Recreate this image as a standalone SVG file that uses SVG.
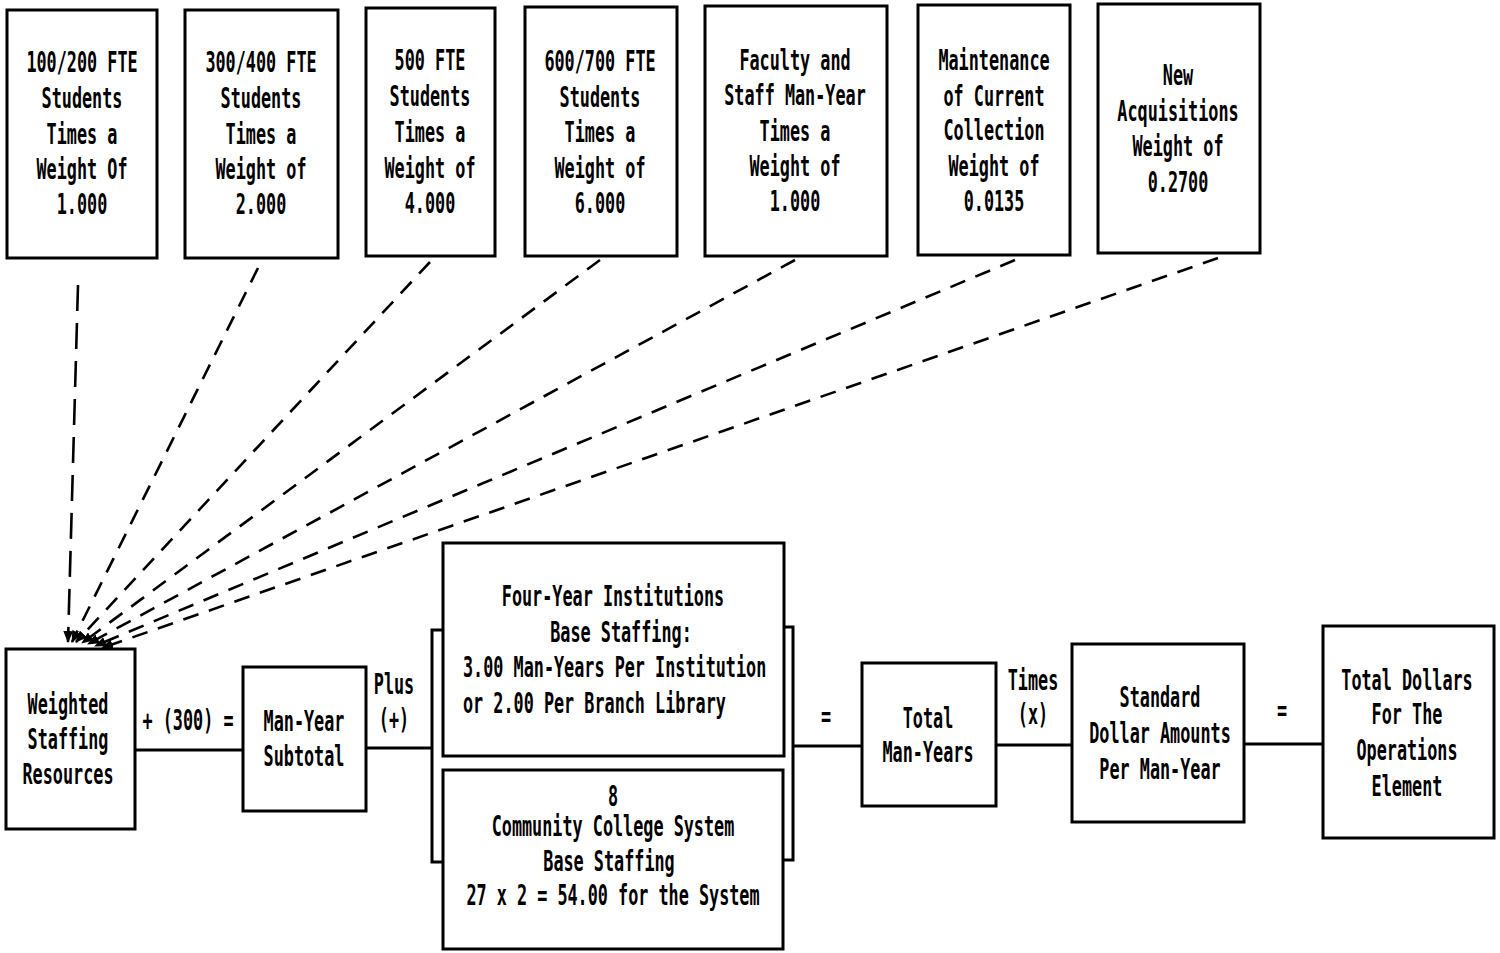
<svg xmlns="http://www.w3.org/2000/svg" width="1500" height="953" viewBox="0 0 1500 953">
<style>
.box{fill:#fff;stroke:#000;stroke-width:3}
.ln{fill:none;stroke:#000;stroke-width:3}
.ds{fill:none;stroke:#000;stroke-width:2.6;stroke-dasharray:16 11}
.dv{fill:none;stroke:#000;stroke-width:2.6;stroke-dasharray:26 12}
text{font-family:"DejaVu Sans Mono","Liberation Mono",monospace;font-size:28px;font-weight:bold;fill:#000;text-anchor:middle}
.st{text-anchor:start}
</style>
<defs>
<marker id="ah" markerUnits="userSpaceOnUse" markerWidth="12" markerHeight="10" refX="11" refY="5" orient="auto">
<path d="M0,0 L12,5 L0,10 Z" fill="#000"/>
</marker>
</defs>
<rect width="1500" height="953" fill="#fff"/>

<g id="connectors">
<path class="dv" d="M78,285 L68,642" marker-end="url(#ah)"/>
<path class="ds" d="M258,268 L72,642" marker-end="url(#ah)"/>
<path class="ds" d="M430,262 L76,642" marker-end="url(#ah)"/>
<path class="ds" d="M600,260 L82,643" marker-end="url(#ah)"/>
<path class="ds" d="M795,260 L88,644" marker-end="url(#ah)"/>
<path class="ds" d="M1015,260 L95,646" marker-end="url(#ah)"/>
<path class="ds" d="M1218,258 L102,648" marker-end="url(#ah)"/>
<path class="ln" d="M135,750 H243"/>
<path class="ln" d="M366,748 H432"/>
<path class="ln" d="M443,630 H432 V862 H443"/>
<path class="ln" d="M784,627 H793 V860 H784"/>
<path class="ln" d="M793,746 H862"/>
<path class="ln" d="M996,745 H1072"/>
<path class="ln" d="M1244,744 H1323"/>
<g transform="translate(188,0) scale(0.6,1)"><text y="730">+ (300) =</text></g>
<g transform="translate(394,0) scale(0.6,1)"><text y="694">Plus</text><text y="729">(+)</text></g>
<g transform="translate(826,0) scale(0.6,1)"><text y="726">=</text></g>
<g transform="translate(1033,0) scale(0.6,1)"><text y="690">Times</text><text y="724">(x)</text></g>
<g transform="translate(1282,0) scale(0.6,1)"><text y="720">=</text></g>
</g>

<g id="n1"><rect class="box" x="7" y="10" width="150" height="248"/>
<g transform="translate(82,0) scale(0.6,1)"><text y="72">100/200 FTE</text><text y="108">Students</text><text y="144">Times a</text><text y="179">Weight Of</text><text y="214">1.000</text></g></g>

<g id="n2"><rect class="box" x="185" y="10" width="153" height="248"/>
<g transform="translate(261,0) scale(0.6,1)"><text y="72">300/400 FTE</text><text y="108">Students</text><text y="144">Times a</text><text y="179">Weight of</text><text y="214">2.000</text></g></g>

<g id="n3"><rect class="box" x="366" y="8" width="129" height="248"/>
<g transform="translate(430,0) scale(0.6,1)"><text y="70">500 FTE</text><text y="106">Students</text><text y="142">Times a</text><text y="178">Weight of</text><text y="213">4.000</text></g></g>

<g id="n4"><rect class="box" x="525" y="7" width="152" height="249"/>
<g transform="translate(600,0) scale(0.6,1)"><text y="71">600/700 FTE</text><text y="107">Students</text><text y="142">Times a</text><text y="178">Weight of</text><text y="213">6.000</text></g></g>

<g id="n5"><rect class="box" x="705" y="6" width="182" height="250"/>
<g transform="translate(795,0) scale(0.6,1)"><text y="70">Faculty and</text><text y="105">Staff Man-Year</text><text y="141">Times a</text><text y="176">Weight of</text><text y="211">1.000</text></g></g>

<g id="n6"><rect class="box" x="918" y="5" width="152" height="250"/>
<g transform="translate(994,0) scale(0.6,1)"><text y="70">Maintenance</text><text y="106">of Current</text><text y="140">Collection</text><text y="176">Weight of</text><text y="211">0.0135</text></g></g>

<g id="n7"><rect class="box" x="1098" y="4" width="162" height="249"/>
<g transform="translate(1178,0) scale(0.6,1)"><text y="85">New</text><text y="121">Acquisitions</text><text y="156">Weight of</text><text y="192">0.2700</text></g></g>

<g id="weighted"><rect class="box" x="6" y="649" width="129" height="180"/>
<g transform="translate(68,0) scale(0.6,1)"><text y="714">Weighted</text><text y="749">Staffing</text><text y="784">Resources</text></g></g>

<g id="subtotal"><rect class="box" x="243" y="667" width="123" height="144"/>
<g transform="translate(304,0) scale(0.6,1)"><text y="731">Man-Year</text><text y="766">Subtotal</text></g></g>

<g id="fouryear"><rect class="box" x="443" y="543" width="341" height="213"/>
<g transform="translate(613,0) scale(0.6,1)"><text y="606">Four-Year Institutions</text></g>
<g transform="translate(621,0) scale(0.6,1)"><text y="642">Base Staffing:</text></g>
<g transform="translate(463,0) scale(0.6,1)"><text class="st" y="677">3.00 Man-Years Per Institution</text><text class="st" y="713">or 2.00 Per Branch Library</text></g></g>

<g id="community"><rect class="box" x="443" y="770" width="340" height="179"/>
<g transform="translate(613,0) scale(0.6,1)"><text y="806">8</text><text y="836">Community College System</text><text y="905">27 x 2 = 54.00 for the System</text></g>
<g transform="translate(609,0) scale(0.6,1)"><text y="871">Base Staffing</text></g></g>

<g id="totalmy"><rect class="box" x="862" y="663" width="134" height="143"/>
<g transform="translate(928,0) scale(0.6,1)"><text y="728">Total</text><text y="762">Man-Years</text></g></g>

<g id="standard"><rect class="box" x="1072" y="644" width="172" height="178"/>
<g transform="translate(1160,0) scale(0.6,1)"><text y="707">Standard</text><text y="743">Dollar Amounts</text><text y="779">Per Man-Year</text></g></g>

<g id="totaldollars"><rect class="box" x="1323" y="626" width="171" height="212"/>
<g transform="translate(1407,0) scale(0.6,1)"><text y="690">Total Dollars</text><text y="724">For The</text><text y="760">Operations</text><text y="796">Element</text></g></g>
</svg>
